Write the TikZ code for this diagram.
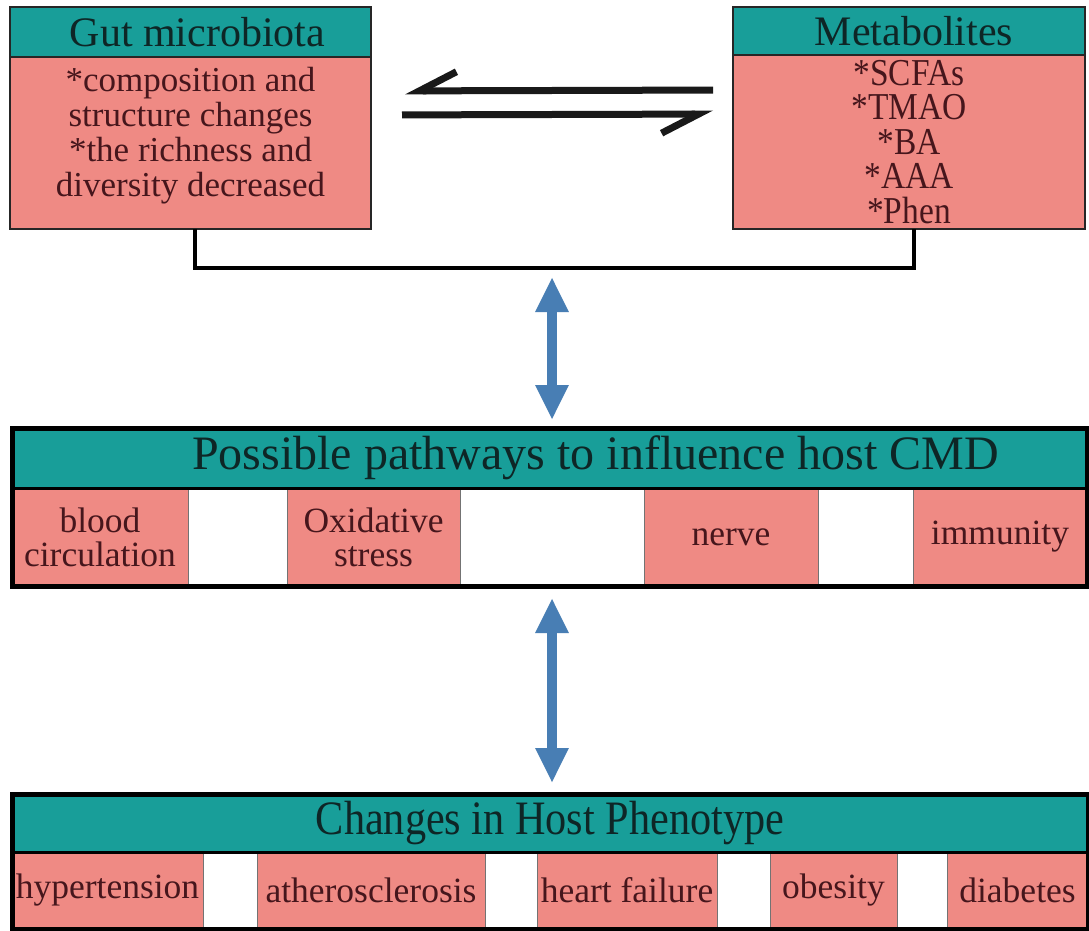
\documentclass[tikz,border=0pt]{standalone}
\usepackage{fontspec}
\setmainfont{Liberation Serif}
\newfontfamily\narrowserif{Liberation Serif}[FakeStretch=0.88]
\usepackage{tikz}
\usetikzlibrary{arrows.meta, positioning}

\definecolor{headteal}{RGB}{24,158,153}
\definecolor{cellpink}{RGB}{239,138,132}
\definecolor{arrowblue}{RGB}{72,126,180}
\definecolor{inkred}{RGB}{70,22,28}
\definecolor{inkdark}{RGB}{14,38,38}

\begin{document}
\begin{tikzpicture}[x=1pt, y=-1pt, outer sep=0pt, inner sep=0pt,
    align=center, semithick]

  \tikzstyle{head}=[fill=headteal, draw=black!85, line width=2pt,
  anchor=north west, text=inkdark, font=\fontsize{42}{44}\selectfont]
  \tikzstyle{body}=[fill=cellpink, draw=black!85, line width=2pt,
  text=inkred, font=\fontsize{35}{35}\selectfont]
  \tikzstyle{cell}=[fill=cellpink, draw=black!55, line width=0.8pt,
  text=inkred, font=\fontsize{35.5}{34}\selectfont]
  \tikzstyle{frame}=[draw=black, line width=5pt]
  \tikzstyle{link}=[draw=black, line width=4pt]
  \tikzstyle{harpoon}=[draw=black!90, line width=7pt]
  \tikzstyle{twoway}=[draw=arrowblue, line width=10pt,
  {Triangle[length=35pt,width=31pt]}-{Triangle[length=35pt,width=31pt]}]

  \path[use as bounding box, fill=white] (0,0) rectangle (1089,931);

  % top: microbiota and metabolites
  \node[head, minimum width=361pt, minimum height=50pt] (gut) at (10,7)
  {\hspace*{14pt}Gut microbiota};
  \node[body, minimum width=361pt, minimum height=172pt, below=0pt of gut]
  (gutbody) {};
  \node[text=inkred, font=\fontsize{35}{35}\selectfont]
  (gutlist) at ([yshift=7pt]gutbody.center)
  {*composition and\\structure changes\\*the richness and\\diversity decreased};

  \node[head, minimum width=352pt, minimum height=48pt] (meta) at (733,7)
  {\hspace*{10pt}Metabolites};
  \node[body, minimum width=352pt, minimum height=174pt, below=0pt of meta,
  font=\narrowserif\fontsize{38}{34.5}\selectfont] (metabody)
  {*SCFAs\\*TMAO\\*BA\\*AAA\\*Phen};

  \draw[harpoon, {Straight Barb[harpoon,swap,length=37pt,width=38pt]}-,
  shorten <=34pt, shorten >=20pt]
  ([yshift=52pt]gutbody.east) -- ([yshift=52pt]metabody.west);
  \draw[harpoon, -{Straight Barb[harpoon,swap,length=37pt,width=38pt]},
  shorten <=31pt, shorten >=20pt]
  ([yshift=28pt]gutbody.east) -- ([yshift=28pt]metabody.west);

  \coordinate (join) at (552,268);
  \draw[link] ([xshift=4pt]gutbody.south) |- (join) -| ([xshift=5pt]metabody.south);

  % middle: pathways
  \node[head, minimum width=1075pt, minimum height=60pt, font=\fontsize{48}{50}\selectfont,
  label={[text=inkdark, font=\fontsize{48}{50}\selectfont, xshift=46pt]center:Possible pathways to influence host CMD}]
  (path) at (12,428) {};
  \node[cell, anchor=north west, minimum width=176pt, minimum height=98pt]
  (blood) at (path.south west) {blood\\circulation};
  \node[cell, right=99pt of blood, minimum width=173pt, minimum height=98pt]
  (oxid) {Oxidative\\stress};
  \node[cell, right=184pt of oxid, minimum width=174pt, minimum height=98pt]
  (nerve) {nerve};
  \node[cell, right=95pt of nerve, minimum width=174pt, minimum height=98pt]
  (immun) {immunity};
  \draw[frame] (path.north west) rectangle (immun.south east);
  \draw[line width=3pt] (path.south west) -- (path.south east);

  \draw[twoway, shorten <=9pt, shorten >=8pt] (join) -- (join |- path.north);

  % bottom: phenotype
  \node[head, minimum width=1076pt, minimum height=58pt,
  font=\narrowserif\fontsize{48}{50}\selectfont] (pheno) at (12,794)
  {Changes in Host Phenotype};
  \node[cell, anchor=north west, minimum width=191pt, minimum height=77pt]
  (hyper) at (pheno.south west) {hypertension};
  \node[cell, right=54pt of hyper, minimum width=228pt, minimum height=77pt]
  (athero) {atherosclerosis};
  \node[cell, right=52pt of athero, minimum width=180pt, minimum height=77pt]
  (heart) {heart failure};
  \node[cell, right=53pt of heart, minimum width=127pt, minimum height=77pt]
  (obese) {obesity};
  \node[cell, right=50pt of obese, minimum width=141pt, minimum height=77pt]
  (diab) {diabetes};
  \draw[frame] (pheno.north west) rectangle (diab.south east);
  \draw[line width=3pt] (pheno.south west) -- (pheno.south east);

  \draw[twoway, shorten <=12pt, shorten >=11pt] (join |- blood.south) -- (join |- pheno.north);
\end{tikzpicture}
\end{document}
